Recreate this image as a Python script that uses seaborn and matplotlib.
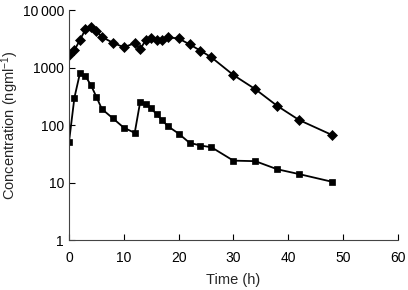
import matplotlib
matplotlib.use('Agg')
import matplotlib.pyplot as plt
import pandas as pd
import seaborn as sns

# time points (h)
t_upper = [0, 1, 2, 3, 4, 5, 6, 8, 10, 12, 13, 14, 15, 16, 17, 18, 20, 22, 24, 26, 30, 34, 38, 42, 48]
c_upper = [1650, 2000, 3000, 4600, 5100, 4300, 3400, 2700, 2250, 2650, 2070, 3000, 3300, 3000, 3000,
           3350, 3200, 2530, 1960, 1500, 740, 420, 215, 122, 67]
t_lower = [0, 1, 2, 3, 4, 5, 6, 8, 10, 12, 13, 14, 15, 16, 17, 18, 20, 22, 24, 26, 30, 34, 38, 42, 48]
c_lower = [50, 300, 790, 710, 495, 310, 190, 131, 90, 73, 254, 232, 195, 153, 122, 96, 71, 49, 44,
           41, 24, 23.5, 17, 14, 10.3]

yticks = [1, 10, 100, 1000, 10000]
ytick_labels = ['1', '10', '100', '1000', '10\u2009000']
xticks = [0, 10, 20, 30, 40, 50, 60]

upper = pd.DataFrame({'t': t_upper, 'c': c_upper})
lower = pd.DataFrame({'t': t_lower, 'c': c_lower})

sns.set_style('ticks')
plt.rcParams['font.family'] = ['Liberation Sans', 'DejaVu Sans']
plt.rcParams['mathtext.default'] = 'regular'

fig = plt.figure(figsize=(4.08, 2.90), dpi=100)
ax = fig.add_axes([0.169, 0.1724, 0.806, 0.7931])

sns.lineplot(data=upper, x='t', y='c', ax=ax, color='black', lw=1.3,
             marker='D', markersize=5.5, markeredgewidth=0.5, markeredgecolor='black')
sns.lineplot(data=lower, x='t', y='c', ax=ax, color='black', lw=1.3,
             marker='s', markersize=4.2, markeredgewidth=0.5, markeredgecolor='black')

ax.set_yscale('log')
ax.set_ylim(1, 10000)
ax.set_xlim(0, 60)
ax.set_yticks(yticks)
ax.set_yticklabels(ytick_labels)
ax.minorticks_off()
ax.set_xticks(xticks)
ax.tick_params(direction='in', length=4, width=0.8, labelsize=10, colors='black')
ax.tick_params(axis='x', pad=8)
ax.set_xlabel('Time (h)', fontsize=10.5, labelpad=6)
ax.set_ylabel('Concentration (ngml$^{-1}$)', fontsize=10.5, labelpad=1)
for s in ['top', 'right']:
    ax.spines[s].set_visible(False)
for s in ['left', 'bottom']:
    ax.spines[s].set_color('#444444')
    ax.spines[s].set_linewidth(0.8)

fig.savefig('out.png', dpi=100)
